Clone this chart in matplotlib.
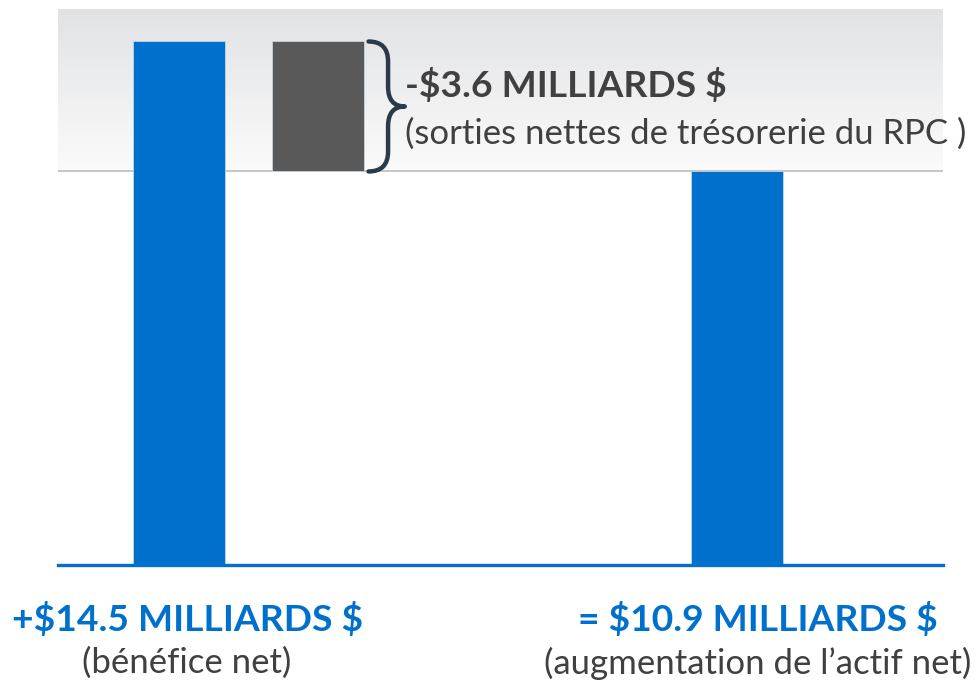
#!/usr/bin/env python3
# -*- coding: utf-8 -*-
"""
Graphique en cascade : bénéfice net, sorties nettes du RPC, augmentation de l'actif net
"""

import numpy as np
import matplotlib
matplotlib.use('Agg')
import matplotlib.pyplot as plt
import matplotlib.transforms as mtransforms
from matplotlib.colors import LinearSegmentedColormap
from matplotlib.path import Path
from matplotlib.patches import PathPatch

# ==================== données ====================
positions = [0, 1, 4]
values = [14.5, -3.6, 10.9]          # milliards $
kinds = ['total', 'delta', 'total']
bar_colors = ['#0070cd', '#595959', '#0070cd']

top_label = '-$3.6 MILLIARDS $'
top_sub = '(sorties nettes de trésorerie du RPC )'
bottom_labels = ['+$14.5 MILLIARDS $', '= $10.9 MILLIARDS $']
bottom_subs = ['(bénéfice net)', '(augmentation de l\u2019actif net)']
bottom_label_x = [0.06, 4.15]

BLUE = '#0070cd'
TEXT_GRAY = '#404040'

plt.rcParams['font.family'] = ['Lato', 'DejaVu Sans']

W, H = 977, 685
fig = plt.figure(figsize=(W / 100, H / 100), dpi=100)
fig.patch.set_facecolor('white')

# axes placé en pixels : gauche 58, droite 943, base 565, haut 9
ax = fig.add_axes([58 / W, (H - 565) / H, (943 - 58) / W, (565 - 9) / H])
xmin, xmax = -0.866, 5.478
ymax = 15.4
ax.set_xlim(xmin, xmax)
ax.set_ylim(0, ymax)
ax.axis('off')

# barres en cascade
bottoms, heights = [], []
running = 0.0
for v, k in zip(values, kinds):
    if k == 'total':
        bottoms.append(0.0)
        heights.append(v)
        running = v
    else:
        new = running + v
        bottoms.append(min(running, new))
        heights.append(abs(v))
        running = new
bar_w = 0.66
ax.bar(positions, heights, bottom=bottoms, width=bar_w, color=bar_colors,
       edgecolor='#c8d4e0', linewidth=0.6, zorder=3)

# fond dégradé au-dessus du niveau final
level = values[0] + values[1]
grad = np.linspace(0, 1, 256).reshape(-1, 1)
cmap = LinearSegmentedColormap.from_list('bg', ['#fbfbfb', '#e1e2e4'])
ax.imshow(grad, cmap=cmap, origin='lower', aspect='auto',
          extent=[xmin, xmax, level, ymax], zorder=0)
ax.axhline(level, color='#c2c2c2', linewidth=1.3, zorder=2)
ax.axhline(0, color=BLUE, linewidth=2.4, zorder=4, clip_on=False)

# accolade à droite de la barre grise
y0, y1 = level, values[0]
ym = (y0 + y1) / 2
x0 = positions[1] + bar_w / 2 + 0.03
xs = x0 + 0.14
xt = xs + 0.12
r = 0.55
verts = [(x0, y1), (xs, y1), (xs, y1 - r),
         (xs, ym + r), (xs, ym), (xt, ym),
         (xs, ym), (xs, ym - r),
         (xs, y0 + r), (xs, y0), (x0, y0)]
codes = [Path.MOVETO, Path.CURVE3, Path.CURVE3,
         Path.LINETO, Path.CURVE3, Path.CURVE3,
         Path.CURVE3, Path.CURVE3,
         Path.LINETO, Path.CURVE3, Path.CURVE3]
ax.add_patch(PathPatch(Path(verts, codes), fill=False, edgecolor='#2b3a4a',
                       linewidth=3.2, capstyle='round', joinstyle='round',
                       zorder=5, clip_on=False))

# textes
def fy(py):
    return 1 - py / H

fig.text(405 / W, fy(85), top_label, color=TEXT_GRAY, fontsize=26.8,
         fontweight='bold', ha='left', va='center', parse_math=False)
fig.text(405 / W, fy(134), top_sub, color=TEXT_GRAY, fontsize=25,
         ha='left', va='center', parse_math=False)

trans = mtransforms.blended_transform_factory(ax.transData, fig.transFigure)
for x, lab, sub in zip(bottom_label_x, bottom_labels, bottom_subs):
    ax.text(x, fy(620), lab, transform=trans, color=BLUE, fontsize=26.8,
            fontweight='bold', ha='center', va='center', clip_on=False,
            parse_math=False)
    ax.text(x, fy(663), sub, transform=trans, color=TEXT_GRAY, fontsize=25,
            ha='center', va='center', clip_on=False, parse_math=False)

plt.savefig('out.png', dpi=100)
plt.close()
